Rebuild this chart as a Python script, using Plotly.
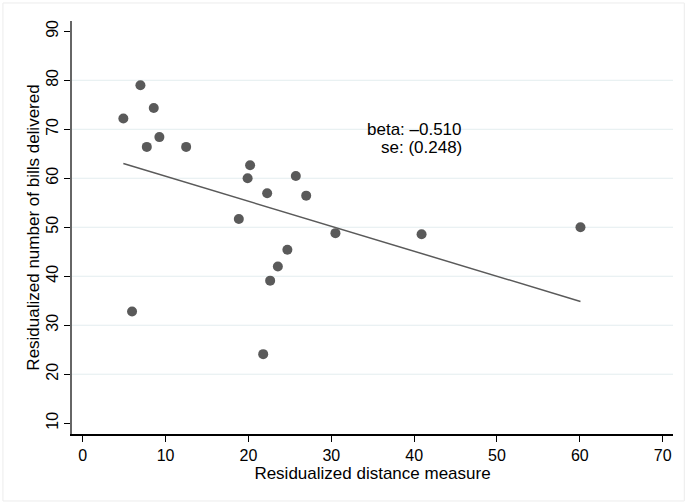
import plotly.graph_objects as go
import numpy as np

# Data
distance = [4.9, 6.96, 8.57, 7.73, 9.25, 12.48, 20.2, 19.9, 22.26, 25.72, 26.97,
            18.84, 30.5, 24.7, 23.55, 22.62, 5.95, 21.78, 40.9, 60.08]
bills = [72.2, 79.0, 74.35, 66.4, 68.4, 66.4, 62.65, 60.0, 56.94, 60.47, 56.45,
         51.7, 48.8, 45.4, 42.0, 39.1, 32.8, 24.1, 48.57, 50.0]

beta = -0.510
intercept = 65.5
beta_label = "beta: \u20130.510"
se_label = "se: (0.248)"

x_ticks = [0, 10, 20, 30, 40, 50, 60, 70]
y_ticks = [10, 20, 30, 40, 50, 60, 70, 80, 90]
grid_vals = [20, 30, 40, 50, 60, 70, 80]

FONT = "Liberation Sans, Arial, sans-serif"
GRAY = "#5a5a5a"

fit_x = np.array([min(distance), max(distance)])
fit_y = intercept + beta * fit_x

fig = go.Figure()
fig.add_trace(go.Scatter(x=distance, y=bills, mode="markers",
                         marker=dict(color=GRAY, size=10, line=dict(width=0)),
                         showlegend=False))
fig.add_trace(go.Scatter(x=fit_x, y=fit_y, mode="lines",
                         line=dict(color=GRAY, width=1.5), showlegend=False))

shapes = []
for g in grid_vals:
    shapes.append(dict(type="line", xref="paper", yref="y", x0=0, x1=1, y0=g, y1=g,
                       line=dict(color="#e3edef", width=1), layer="below"))
shapes.append(dict(type="rect", xref="paper", yref="paper",
                   x0=-0.1149, x1=1.0188, y0=-0.1622, y1=1.0436,
                   line=dict(color="#ececec", width=1), layer="below"))

fig.update_layout(
    width=685, height=502,
    margin=dict(l=72, r=12, t=21, b=68),
    paper_bgcolor="white", plot_bgcolor="white",
    font=dict(family=FONT, size=16, color="#000"),
    shapes=shapes,
    annotations=[
        dict(x=46, y=69.9, xref="x", yref="y", text=beta_label, showarrow=False,
             xanchor="right", yanchor="middle", font=dict(size=17, family=FONT, color="#000")),
        dict(x=46, y=66.3, xref="x", yref="y", text=se_label, showarrow=False,
             xanchor="right", yanchor="middle", font=dict(size=17, family=FONT, color="#000")),
    ],
)
fig.update_xaxes(range=[-1.3, 71.25], tickvals=x_ticks, showgrid=False, zeroline=False,
                 showline=True, linecolor="#000", linewidth=1.5,
                 ticks="outside", ticklen=6, tickcolor="#000", tickwidth=1,
                 tickfont=dict(size=16, family=FONT),
                 title=dict(text="Residualized distance measure", font=dict(size=17, family=FONT),
                            standoff=1))
fig.update_yaxes(range=[7.8, 92.1], tickvals=y_ticks, showgrid=False, zeroline=False,
                 showline=True, linecolor="#666", linewidth=1.5,
                 ticks="outside", ticklen=6, tickcolor="#000", tickwidth=1,
                 tickangle=-90, tickfont=dict(size=16, family=FONT),
                 title=dict(text="Residualized number of bills delivered",
                            font=dict(size=17, family=FONT), standoff=0))

fig.write_html("out.html")
